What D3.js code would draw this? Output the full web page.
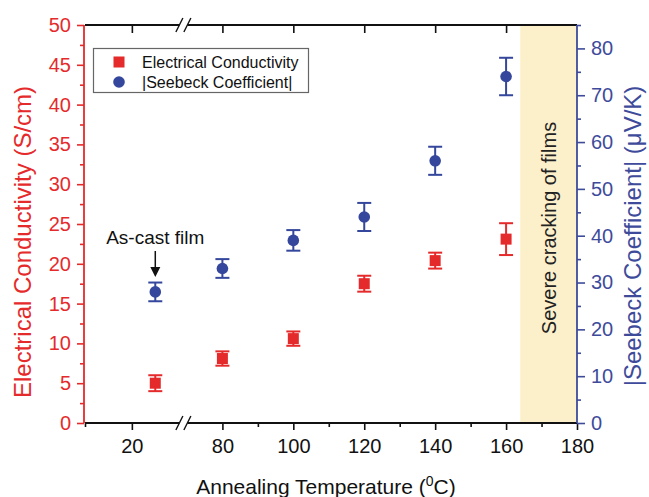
<!DOCTYPE html>
<html>
<head>
<meta charset="utf-8">
<script src="https://cdn.jsdelivr.net/npm/d3@7"></script>
<style>
  html, body { margin: 0; padding: 0; background: #fff; }
  svg { display: block; font-family: Arial, "Liberation Sans", sans-serif; }
</style>
</head>
<body>
<svg id="chart" width="649" height="497"></svg>
<script>
// ---------- data ----------
const temps = [25, 80, 100, 120, 140, 160];
const conductivity = [5.0, 8.1, 10.6, 17.5, 20.4, 23.1];
const conductivityErr = [1.0, 0.9, 0.9, 1.0, 1.0, 2.0];
const seebeck = [28, 33, 39, 44, 56, 74];
const seebeckErr = [2, 2, 2.2, 3, 3, 4];

const xMajorTicks = [20, 80, 100, 120, 140, 160, 180];
const xMinorTicks = [10, 90, 110, 130, 150, 170];
const yLeftTicks = [0, 5, 10, 15, 20, 25, 30, 35, 40, 45, 50];
const yLeftMinor = [2.5, 7.5, 12.5, 17.5, 22.5, 27.5, 32.5, 37.5, 42.5, 47.5];
const yRightTicks = [0, 10, 20, 30, 40, 50, 60, 70, 80];
const yRightMinor = [5, 15, 25, 35, 45, 55, 65, 75, 85];
const crackRegion = [164, 180];

const seriesNames = ["Electrical Conductivity", "|Seebeck Coefficient|"];

// ---------- layout ----------
const L = 85, R = 577, T = 25, B = 423;
const xb = L + (R - L) * 0.2;
const RED = "#e52a2b", BLUE = "#34479c", AXBLUE = "#3e4b9b";

const svg = d3.select("#chart");

// broken x-scale: [10,31] left segment, [69,180] right segment
const x = d3.scaleLinear().domain([10, 31, 69, 180]).range([L, xb, xb, R]);
const yL = d3.scaleLinear().domain([0, 50]).range([B, T]);
const yR = d3.scaleLinear().domain([0, 85]).range([B, T]);

// crack region
svg.append("rect")
  .attr("x", x(crackRegion[0])).attr("y", T)
  .attr("width", x(crackRegion[1]) - x(crackRegion[0]))
  .attr("height", B - T)
  .attr("fill", "#fcf0cb");

svg.append("text")
  .attr("transform", `translate(${(x(crackRegion[0]) + x(crackRegion[1])) / 2 + 7},${(T + B) / 2 + 4}) rotate(-90)`)
  .attr("text-anchor", "middle")
  .attr("font-size", 20)
  .attr("fill", "#222")
  .text("Severe cracking of films");

// ---------- axes ----------
function styleAxis(g, color, fontSize) {
  g.selectAll("path.domain").remove();
  g.selectAll("line").attr("stroke", color).attr("stroke-width", 1.6);
  g.selectAll("text").attr("fill", color).attr("font-size", fontSize)
    .attr("font-family", "Arial, 'Liberation Sans', sans-serif");
}

// bottom axis
const gxMaj = svg.append("g").attr("transform", `translate(0,${B})`)
  .call(d3.axisBottom(x).tickValues(xMajorTicks).tickSize(7).tickPadding(9));
styleAxis(gxMaj, "#111", 20);
const gxMin = svg.append("g").attr("transform", `translate(0,${B})`)
  .call(d3.axisBottom(x).tickValues(xMinorTicks).tickSize(4).tickFormat(""));
styleAxis(gxMin, "#111", 20);

// top axis (ticks inward)
const gxTop = svg.append("g").attr("transform", `translate(0,${T})`)
  .call(d3.axisBottom(x).tickValues(xMajorTicks.filter(v => v < 180)).tickSize(8).tickFormat(""));
styleAxis(gxTop, "#111", 20);

// axis lines with break
[T, B].forEach(yy => {
  svg.append("line").attr("x1", L).attr("x2", xb - 4).attr("y1", yy).attr("y2", yy)
    .attr("stroke", "#111").attr("stroke-width", 1.8);
  svg.append("line").attr("x1", xb + 4).attr("x2", R).attr("y1", yy).attr("y2", yy)
    .attr("stroke", "#111").attr("stroke-width", 1.8);
  [xb - 4, xb + 4].forEach(cx => {
    svg.append("line")
      .attr("x1", cx - 3.5).attr("y1", yy + 7)
      .attr("x2", cx + 3.5).attr("y2", yy - 7)
      .attr("stroke", "#111").attr("stroke-width", 1.4);
  });
});

// left axis
const gyL = svg.append("g").attr("transform", `translate(${L - 1},0)`)
  .call(d3.axisLeft(yL).tickValues(yLeftTicks).tickSize(7).tickPadding(6));
styleAxis(gyL, RED, 20);
const gyLm = svg.append("g").attr("transform", `translate(${L - 1},0)`)
  .call(d3.axisLeft(yL).tickValues(yLeftMinor).tickSize(4).tickFormat(""));
styleAxis(gyLm, RED, 20);
svg.append("line").attr("x1", L - 1).attr("x2", L - 1).attr("y1", T).attr("y2", B)
  .attr("stroke", RED).attr("stroke-width", 1.8);

// right axis
const gyR = svg.append("g").attr("transform", `translate(${R},0)`)
  .call(d3.axisRight(yR).tickValues(yRightTicks).tickSize(8).tickPadding(6));
styleAxis(gyR, AXBLUE, 20);
const gyRm = svg.append("g").attr("transform", `translate(${R},0)`)
  .call(d3.axisRight(yR).tickValues(yRightMinor).tickSize(4).tickFormat(""));
styleAxis(gyRm, AXBLUE, 20);
svg.append("line").attr("x1", R).attr("x2", R).attr("y1", T).attr("y2", B)
  .attr("stroke", AXBLUE).attr("stroke-width", 1.8);

// axis titles
svg.append("text")
  .attr("transform", `translate(31,${(T + B) / 2 + 18}) rotate(-90)`)
  .attr("text-anchor", "middle").attr("font-size", 24).attr("fill", RED)
  .text("Electrical Conductivity (S/cm)");

svg.append("text")
  .attr("transform", `translate(641,${(T + B) / 2 + 12}) rotate(-90)`)
  .attr("text-anchor", "middle").attr("font-size", 24).attr("fill", AXBLUE)
  .text("|Seebeck Coefficient| (\u03BCV/K)");

const xt = svg.append("text")
  .attr("x", (L + R) / 2 - 5).attr("y", 494)
  .attr("text-anchor", "middle").attr("font-size", 21).attr("fill", "#111");
xt.append("tspan").text("Annealing Temperature (");
xt.append("tspan").attr("dy", -8).attr("font-size", 14).text("0");
xt.append("tspan").attr("dy", 8).text("C)");

// ---------- data marks ----------
const capW = 7;
function errorBars(vals, errs, scale, color) {
  const g = svg.append("g");
  temps.forEach((t, i) => {
    const cx = x(t), y1 = scale(vals[i] + errs[i]), y2 = scale(vals[i] - errs[i]);
    g.append("line").attr("x1", cx).attr("x2", cx).attr("y1", y1).attr("y2", y2)
      .attr("stroke", color).attr("stroke-width", 2);
    [y1, y2].forEach(yy => g.append("line")
      .attr("x1", cx - capW).attr("x2", cx + capW).attr("y1", yy).attr("y2", yy)
      .attr("stroke", color).attr("stroke-width", 2));
  });
}
errorBars(conductivity, conductivityErr, yL, RED);
errorBars(seebeck, seebeckErr, yR, BLUE);

svg.append("g").selectAll("rect").data(temps).join("rect")
  .attr("x", (d) => x(d) - 5.5).attr("y", (d, i) => yL(conductivity[i]) - 5.5)
  .attr("width", 11).attr("height", 11).attr("fill", RED);

svg.append("g").selectAll("circle").data(temps).join("circle")
  .attr("cx", (d) => x(d)).attr("cy", (d, i) => yR(seebeck[i]))
  .attr("r", 5.8).attr("fill", BLUE);

// annotation
svg.append("text").attr("x", x(temps[0])).attr("y", 244)
  .attr("text-anchor", "middle").attr("font-size", 19).attr("fill", "#111")
  .text("As-cast film");
svg.append("line").attr("x1", x(temps[0])).attr("x2", x(temps[0]))
  .attr("y1", 251).attr("y2", 268).attr("stroke", "#111").attr("stroke-width", 1.5);
svg.append("path")
  .attr("d", `M${x(temps[0]) - 5},267 L${x(temps[0]) + 5},267 L${x(temps[0])},277 Z`)
  .attr("fill", "#111");

// ---------- legend ----------
const lg = svg.append("g");
lg.append("rect").attr("x", 93.5).attr("y", 48.5).attr("width", 215).attr("height", 44)
  .attr("fill", "#fff").attr("stroke", "#666").attr("stroke-width", 1.2);
lg.append("rect").attr("x", 119 - 5.5).attr("y", 62 - 5.5).attr("width", 11).attr("height", 11).attr("fill", RED);
lg.append("circle").attr("cx", 119).attr("cy", 82).attr("r", 5.8).attr("fill", BLUE);
seriesNames.forEach((s, i) => {
  lg.append("text").attr("x", 142).attr("y", 67.5 + i * 20)
    .attr("font-size", 16).attr("fill", "#111").text(s);
});
</script>
</body>
</html>
